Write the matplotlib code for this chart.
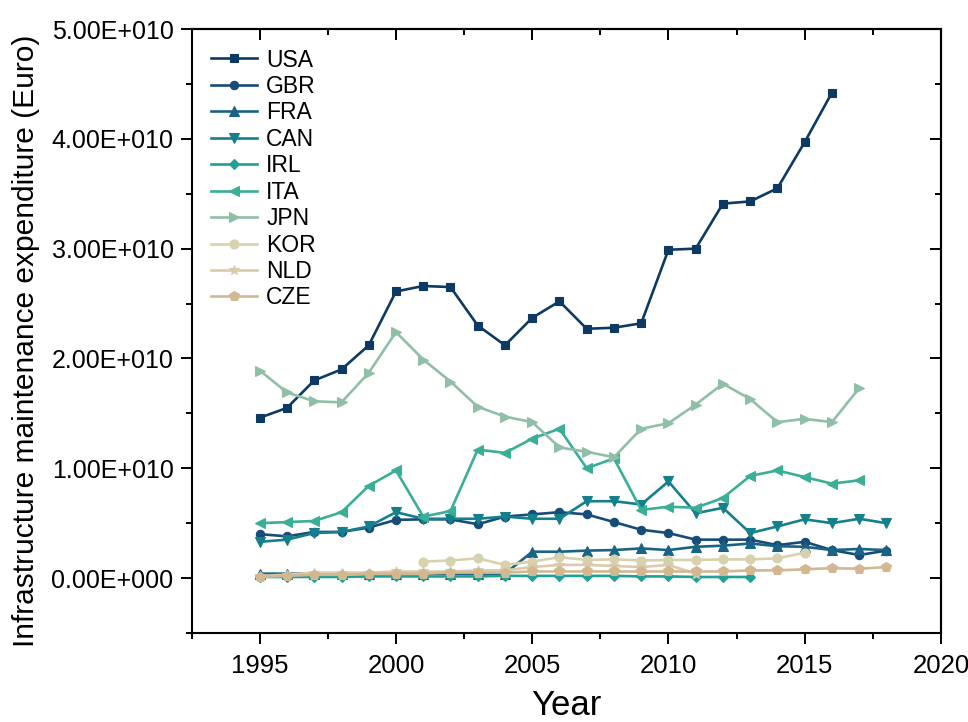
import numpy as np
import matplotlib
matplotlib.use("Agg")
import matplotlib.pyplot as plt
from matplotlib.ticker import MultipleLocator, FuncFormatter

plt.rcParams['font.family'] = ['Liberation Sans', 'DejaVu Sans']

# Infrastructure maintenance expenditure, in units of 1e10 Euro
years_usa = list(range(1995, 2017))
usa = [1.46, 1.55, 1.80, 1.90, 2.12, 2.61, 2.66, 2.65, 2.30, 2.12, 2.37, 2.52,
       2.27, 2.28, 2.32, 2.99, 3.00, 3.41, 3.43, 3.55, 3.97, 4.42]

years_gbr = list(range(1995, 2019))
gbr = [0.40, 0.38, 0.42, 0.42, 0.46, 0.53, 0.535, 0.535, 0.49, 0.56, 0.58, 0.60,
       0.58, 0.51, 0.44, 0.41, 0.35, 0.35, 0.35, 0.30, 0.33, 0.255, 0.21, 0.25]

years_fra = list(range(1995, 2019))
fra = [0.04, 0.04, 0.04, 0.04, 0.04, 0.04, 0.04, 0.04, 0.04, 0.04, 0.24, 0.24,
       0.25, 0.255, 0.27, 0.255, 0.285, 0.295, 0.315, 0.29, 0.285, 0.255, 0.265, 0.255]

years_can = list(range(1995, 2019))
can = [0.33, 0.35, 0.41, 0.42, 0.47, 0.60, 0.54, 0.54, 0.54, 0.56, 0.54, 0.54,
       0.70, 0.70, 0.67, 0.88, 0.59, 0.64, 0.41, 0.47, 0.535, 0.50, 0.54, 0.50]

years_irl = list(range(1995, 2014))
irl = [0.01, 0.01, 0.01, 0.01, 0.015, 0.015, 0.015, 0.015, 0.015, 0.02, 0.02, 0.02,
       0.02, 0.02, 0.015, 0.015, 0.01, 0.01, 0.01]

years_ita = list(range(1995, 2018))
ita = [0.50, 0.51, 0.52, 0.60, 0.84, 0.98, 0.56, 0.61, 1.17, 1.14, 1.27, 1.36,
       1.00, 1.09, 0.62, 0.65, 0.64, 0.73, 0.93, 0.98, 0.92, 0.86, 0.89]

years_jpn = list(range(1995, 2018))
jpn = [1.89, 1.69, 1.61, 1.60, 1.87, 2.24, 1.99, 1.79, 1.56, 1.47, 1.42, 1.19,
       1.15, 1.10, 1.36, 1.41, 1.58, 1.77, 1.63, 1.42, 1.45, 1.42, 1.73]

years_kor = list(range(2001, 2016))
kor = [0.15, 0.16, 0.18, 0.12, 0.15, 0.19, 0.165, 0.17, 0.16, 0.165, 0.165,
       0.17, 0.17, 0.18, 0.23]

years_nld = list(range(1995, 2012))
nld = [0.02, 0.03, 0.05, 0.05, 0.05, 0.06, 0.06, 0.06, 0.07, 0.07, 0.10, 0.12,
       0.12, 0.11, 0.10, 0.12, 0.04]

years_cze = list(range(1995, 2019))
cze = [0.01, 0.02, 0.03, 0.03, 0.04, 0.04, 0.04, 0.05, 0.05, 0.05, 0.06, 0.06,
       0.06, 0.06, 0.06, 0.06, 0.06, 0.06, 0.07, 0.07, 0.08, 0.09, 0.085, 0.10]

series = [
    ("USA", years_usa, usa, "s", "#0d3a62", 5.5),
    ("GBR", years_gbr, gbr, "o", "#174c78", 6),
    ("FRA", years_fra, fra, "^", "#1a6386", 6.5),
    ("CAN", years_can, can, "v", "#14808c", 6.5),
    ("IRL", years_irl, irl, "D", "#1fa196", 5),
    ("ITA", years_ita, ita, "<", "#3aae96", 6.5),
    ("JPN", years_jpn, jpn, ">", "#8fbfa7", 6.5),
    ("KOR", years_kor, kor, "o", "#d7d1ae", 6.5),
    ("NLD", years_nld, nld, "*", "#dacbac", 7.5),
    ("CZE", years_cze, cze, "p", "#d3b791", 7),
]

fig = plt.figure(figsize=(9.68, 7.22), dpi=100)
ax = fig.add_axes([0.198, 0.1233, 0.774, 0.8365])

for name, xs, ys, mk, col, ms in series:
    ax.plot(xs, np.array(ys) * 1e10, marker=mk, color=col, lw=1.9,
            markersize=ms, markeredgewidth=0.8, label=name)

ax.set_xlim(1992.5, 2020)
ax.set_ylim(-0.5e10, 5e10)

ax.xaxis.set_major_locator(MultipleLocator(5))
ax.xaxis.set_minor_locator(MultipleLocator(2.5))
ax.yaxis.set_major_locator(MultipleLocator(1e10))
ax.yaxis.set_minor_locator(MultipleLocator(0.5e10))


def sci_fmt(v, pos):
    if v == 0:
        return "0.00E+000"
    e = int(np.floor(np.log10(abs(v))))
    m = v / 10 ** e
    return f"{m:.2f}E+{e:03d}"


ax.yaxis.set_major_formatter(FuncFormatter(sci_fmt))
ax.tick_params(which='major', direction='out', length=8, width=1.4,
               labelsize=18, top=False, right=False)
ax.tick_params(which='minor', direction='out', length=4.5, width=1.4,
               top=False, right=False)
ax.tick_params(axis='x', labelsize=18.5, pad=7)
ax.tick_params(axis='y', pad=5)

for s in ax.spines.values():
    s.set_linewidth(1.5)

# mirrored ticks on the top and right edges point into the plot
top = ax.secondary_xaxis('top')
top.xaxis.set_major_locator(MultipleLocator(5))
top.xaxis.set_minor_locator(MultipleLocator(2.5))
top.tick_params(which='major', direction='in', length=8, width=1.4, labeltop=False)
top.tick_params(which='minor', direction='in', length=4.5, width=1.4)
top.spines['top'].set_linewidth(1.5)

right = ax.secondary_yaxis('right')
right.yaxis.set_major_locator(MultipleLocator(1e10))
right.yaxis.set_minor_locator(MultipleLocator(0.5e10))
right.tick_params(which='major', direction='in', length=8, width=1.4, labelright=False)
right.tick_params(which='minor', direction='in', length=4.5, width=1.4)
right.spines['right'].set_linewidth(1.5)

ax.set_xlabel("Year", fontsize=25, labelpad=8)
ax.set_ylabel("Infrastructure maintenance expenditure (Euro)", fontsize=21.5)
ax.yaxis.set_label_coords(-0.202, 0.483)

ax.legend(loc='upper left', bbox_to_anchor=(0.0, 1.0), frameon=False,
          fontsize=16.5, handlelength=2.0, labelspacing=0.15, handletextpad=0.4,
          borderaxespad=0.45)

fig.savefig("out.png", dpi=100)
